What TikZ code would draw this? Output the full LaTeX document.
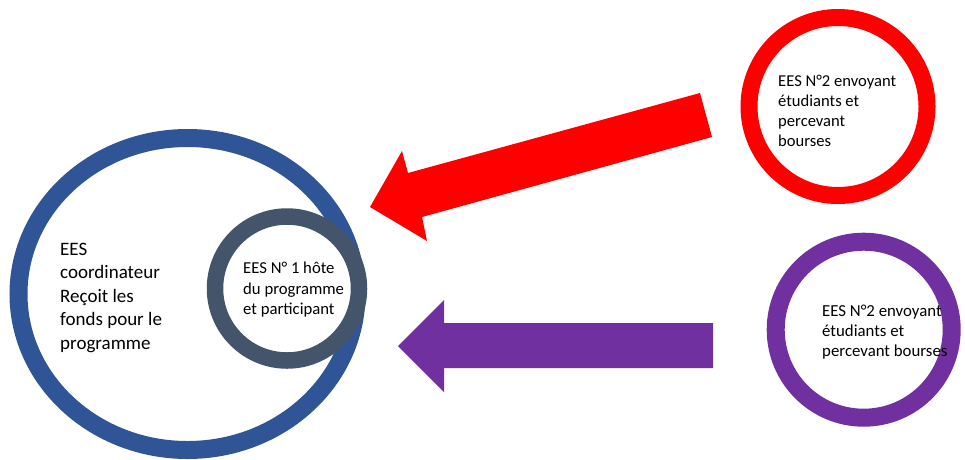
\documentclass[tikz,border=0pt]{standalone}
\usepackage{fontspec}
\setmainfont{Carlito}
\usetikzlibrary{shapes.geometric}
\definecolor{cblue}{HTML}{2F5597}
\definecolor{cgray}{HTML}{44546A}
\definecolor{cred}{HTML}{FF0000}
\definecolor{cpurple}{HTML}{7030A0}
\begin{document}
\begin{tikzpicture}[x=1pt,y=-1pt,
  ring/.style={circle, draw, fill=white, inner sep=0pt},
  lbl/.style={align=left, inner sep=0pt, anchor=base west, text=black}]
\useasboundingbox (0,0) rectangle (965,459);
\node[ellipse, draw=cblue, line width=18pt, fill=white, minimum width=338pt, minimum height=312pt, inner sep=0pt] (coord) at (187.5,294) {};
\node[ring, draw=cgray, line width=16.5pt, minimum size=144pt] (host) at (287,288.5) {};
\node[ring, draw=cred, line width=17pt, minimum size=178pt] (sendA) at (838,106.5) {};
\node[ring, draw=cpurple, line width=18pt, minimum size=176pt] (sendB) at (863.7,329.7) {};
\fill[cred] (700,93) -- (408,173) -- (402,151) -- (370,207) -- (427,241) -- (422,217) -- (712,137) -- cycle;
\fill[cpurple] (713,323) -- (444,323) -- (444,300) -- (398,346) -- (444,392) -- (444,368) -- (713,368) -- cycle;
\node[lbl, font=\fontsize{19}{23.5}\selectfont] (tcoord) at (60,349) {EES\\coordinateur\\Reçoit les\\fonds pour le\\programme};
\node[lbl, font=\fontsize{16.7}{20.5}\selectfont] (thost) at (243,314.7) {EES N° 1 hôte\\du programme\\et participant};
\node[lbl, font=\fontsize{16.6}{20}\selectfont] (tsendA) at (778,146) {EES N°2 envoyant\\étudiants et\\percevant\\bourses};
\node[lbl, font=\fontsize{16.8}{20}\selectfont] (tsendB) at (822,356) {EES N°2 envoyant\\étudiants et\\percevant bourses};
\end{tikzpicture}
\end{document}
